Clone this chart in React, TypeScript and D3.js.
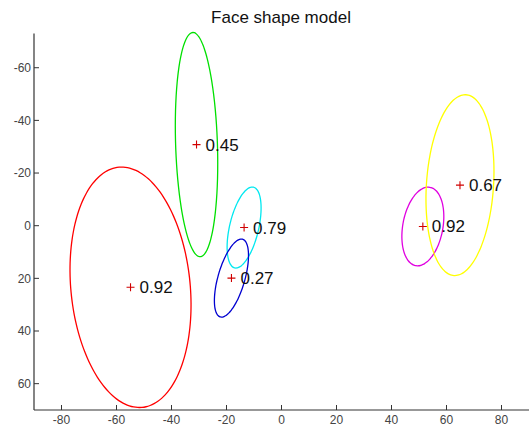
import React from "react";
import * as d3 from "d3";

const title = "Face shape model";
const xTicks = [-80, -60, -40, -20, 0, 20, 40, 60, 80];
const yTicks = [-60, -40, -20, 0, 20, 40, 60];

const colors = ["#ff0000", "#00e000", "#00e8f0", "#0000d0", "#e000e0", "#ffff00"];
const centerX = [-54.9, -30.9, -13.6, -18.2, 51.4, 64.9];
const centerY = [23.4, -30.8, 0.7, 19.9, 0.3, -15.4];
const majorAxis = [45.8, 42.6, 15.7, 15.3, 15.1, 34.4];
const minorAxis = [21.7, 7.6, 5.3, 4.9, 7.3, 12.2];
const angleDeg = [84.8, 88.2, 102.4, 105.2, 99.6, 93.6];
const weights = ["0.92", "0.45", "0.79", "0.27", "0.92", "0.67"];

const W = 529;
const H = 428;
const font = "'Liberation Sans', Arial, Helvetica, sans-serif";

export default function App() {
  const x = d3.scaleLinear().domain([-90, 90]).range([34, 529]);
  const y = d3.scaleLinear().domain([-73, 70]).range([33.5, 410]);
  const axisColor = "#333";

  const ts = d3.range(0, 360, 4).map((d) => (d * Math.PI) / 180);
  const line = d3
    .line<[number, number]>()
    .x((d) => x(d[0]))
    .y((d) => y(d[1]))
    .curve(d3.curveCardinalClosed);

  const ellipses = colors.map((c, i) => {
    const phi = (angleDeg[i] * Math.PI) / 180;
    const a = majorAxis[i];
    const b = minorAxis[i];
    const pts: [number, number][] = ts.map((t) => [
      centerX[i] + a * Math.cos(t) * Math.cos(phi) - b * Math.sin(t) * Math.sin(phi),
      centerY[i] + a * Math.cos(t) * Math.sin(phi) + b * Math.sin(t) * Math.cos(phi),
    ]);
    return { c, d: line(pts) || "" };
  });

  const x0 = x.range()[0];
  const yb = y.range()[1];

  return (
    <svg
      width={W}
      height={H}
      style={{ position: "absolute", left: 0, top: 0, background: "#fff" }}
    >
      <rect x={0} y={0} width={W} height={H} fill="#fff" />
      <text x={281} y={23} textAnchor="middle" fontFamily={font} fontSize={17} fill="#111">
        {title}
      </text>

      {ellipses.map((e, i) => (
        <path key={i} d={e.d} fill="none" stroke={e.c} strokeWidth={1.3} />
      ))}

      {colors.map((_, i) => (
        <g key={i} transform={`translate(${x(centerX[i])},${y(centerY[i])})`}>
          <path d="M-4,0H4M0,-4V4" stroke="#d00000" strokeWidth={1.1} />
          <text x={9} y={6} fontFamily={font} fontSize={17} fill="#111">
            {weights[i]}
          </text>
        </g>
      ))}

      {/* axes */}
      <line x1={x0} x2={x0} y1={y.range()[0]} y2={yb} stroke={axisColor} strokeWidth={1.2} />
      <line x1={x0} x2={W} y1={yb} y2={yb} stroke={axisColor} strokeWidth={1.2} />
      {yTicks.map((t) => (
        <g key={t}>
          <line x1={x0} x2={x0 + 5} y1={y(t)} y2={y(t)} stroke={axisColor} strokeWidth={1} />
          <text
            x={x0 - 3}
            y={y(t)}
            dy="0.35em"
            textAnchor="end"
            fontFamily={font}
            fontSize={12}
            fill="#444"
          >
            {t < 0 ? `-${Math.abs(t)}` : t}
          </text>
        </g>
      ))}
      {xTicks.map((t) => (
        <g key={t}>
          <line x1={x(t)} x2={x(t)} y1={yb} y2={yb - 5} stroke={axisColor} strokeWidth={1} />
          <text
            x={x(t)}
            y={423.5}
            textAnchor="middle"
            fontFamily={font}
            fontSize={12}
            fill="#444"
          >
            {t < 0 ? `-${Math.abs(t)}` : t}
          </text>
        </g>
      ))}
    </svg>
  );
}
